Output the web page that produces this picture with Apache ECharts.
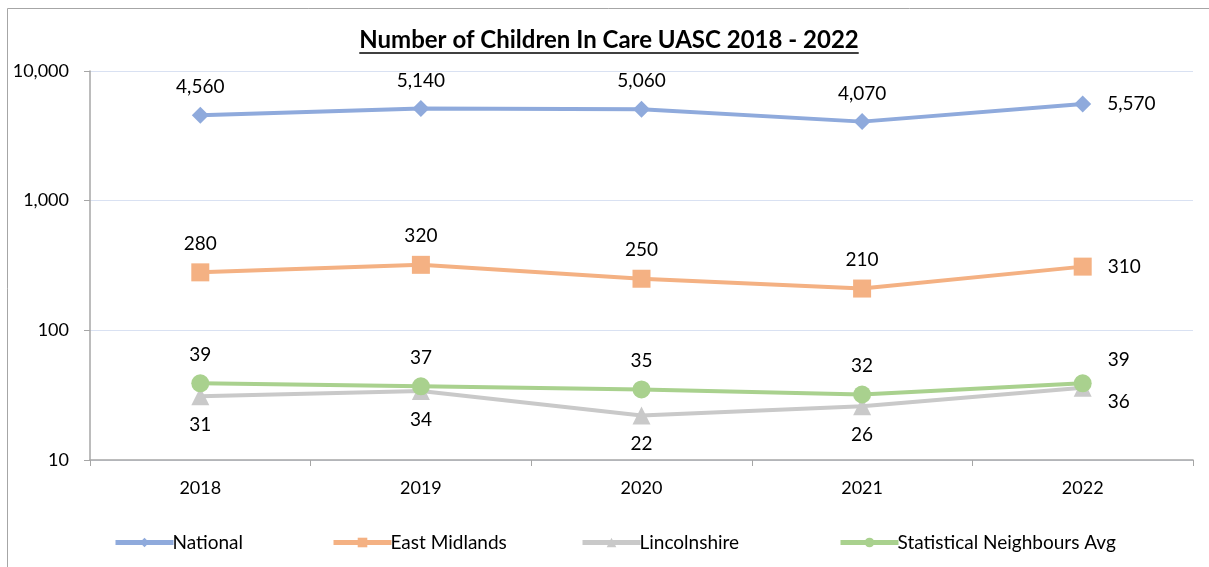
<!DOCTYPE html>
<html>
<head>
<meta charset="utf-8">
<script src="https://cdn.jsdelivr.net/npm/echarts@6/dist/echarts.min.js"></script>
<style>
  html, body { margin: 0; padding: 0; background: #ffffff; }
  #chart { width: 1209px; height: 567px; }
</style>
</head>
<body>
<div id="chart"></div>
<script>
// Children in care who are unaccompanied asylum-seeking (UASC), 2018–2022
const years = ['2018', '2019', '2020', '2021', '2022'];
const national = [4560, 5140, 5060, 4070, 5570];
const eastMidlands = [280, 320, 250, 210, 310];
const lincolnshire = [31, 34, 22, 26, 36];
const statNeighbours = [39, 37, 35, 32, 39];
const yTicks = [10, 100, 1000, 10000];

const FONT = 'Lato, "Open Sans", sans-serif';
const TEXT = '#000000';
const fmt = v => Number(v).toLocaleString('en-GB');

const chart = echarts.init(document.getElementById('chart'), null, { renderer: 'canvas' });

// Labels sit above (or below) each point; the last point carries its label to the right.
function labelled(values, place, lastOffset) {
  return values.map((v, i) => {
    if (i === values.length - 1) {
      return { value: v, label: { position: 'right', distance: 16, offset: lastOffset } };
    }
    return { value: v, label: { position: place, distance: 10 } };
  });
}

function series(name, values, color, symbol, size, place, lastOffset, z) {
  return {
    name, type: 'line', data: labelled(values, place, lastOffset),
    symbol, symbolSize: size, z,
    lineStyle: { color, width: 4 },
    itemStyle: { color, borderWidth: 0 },
    emphasis: { disabled: true },
    label: {
      show: true, color: TEXT, fontFamily: FONT, fontSize: 19,
      formatter: p => fmt(p.value)
    },
    animation: false
  };
}

const title = 'Number of Children In Care UASC 2018 - 2022';
const titleFont = 'bold 24px ' + FONT;
const measure = document.createElement('canvas').getContext('2d');
measure.font = titleFont;
const titleW = measure.measureText(title).width;
const titleCX = 609, titleY = 40;

chart.setOption({
  backgroundColor: '#ffffff',
  animation: false,
  grid: { left: 90, right: 16, top: 71, bottom: 107, containLabel: false },
  graphic: [
    { type: 'rect', silent: true, shape: { x: 7.5, y: 8.5, width: 1215, height: 580 },
      style: { fill: null, stroke: '#a6a6a6', lineWidth: 1 } },
    { type: 'text', silent: true, x: titleCX, y: titleY,
      style: { text: title, font: titleFont, fill: TEXT, align: 'center', verticalAlign: 'middle' } },
    { type: 'line', silent: true,
      shape: { x1: titleCX - titleW / 2, y1: titleY + 13, x2: titleCX + titleW / 2, y2: titleY + 13 },
      style: { stroke: TEXT, lineWidth: 1.5 } }
  ],
  xAxis: {
    type: 'category', data: years, boundaryGap: true,
    axisLine: { lineStyle: { color: '#a6a6a6', width: 1.5 } },
    axisTick: { show: true, length: 6, lineStyle: { color: '#a6a6a6' }, alignWithLabel: false },
    axisLabel: { color: TEXT, fontFamily: FONT, fontSize: 18, margin: 19 },
    splitLine: { show: false }
  },
  yAxis: {
    type: 'log', logBase: 10, min: yTicks[0], max: yTicks[yTicks.length - 1],
    axisLine: { show: true, lineStyle: { color: '#a6a6a6', width: 1.5 } },
    axisTick: { show: true, inside: false, length: 6, lineStyle: { color: '#a6a6a6' } },
    axisLabel: { color: TEXT, fontFamily: FONT, fontSize: 18, margin: 21, formatter: v => fmt(v) },
    splitLine: { show: true, lineStyle: { color: '#d9e1f2', width: 1.2 } },
    minorTick: { show: false }
  },
  legend: [
    { data: ['National'], left: 108 },
    { data: ['East Midlands'], left: 326 },
    { data: ['Lincolnshire'], left: 575 },
    { data: ['Statistical Neighbours Avg'], left: 833 }
  ].map(l => Object.assign({
    top: 528, itemWidth: 58, itemHeight: 12, itemGap: 4,
    selectedMode: false,
    lineStyle: { width: 5 },
    textStyle: { color: TEXT, fontFamily: FONT, fontSize: 19, padding: [0, 0, 0, -6] }
  }, l)),
  series: [
    series('National', national, '#8faadc', 'diamond', 17, 'top', [0, 0], 4),
    series('East Midlands', eastMidlands, '#f4b183', 'rect', 18, 'top', [0, 0], 4),
    series('Lincolnshire', lincolnshire, '#c9c9c9', 'triangle', 18, 'bottom', [0, 14], 3),
    series('Statistical Neighbours Avg', statNeighbours, '#a9d18e', 'circle', 18, 'top', [0, -23], 5)
  ]
});
</script>
</body>
</html>
